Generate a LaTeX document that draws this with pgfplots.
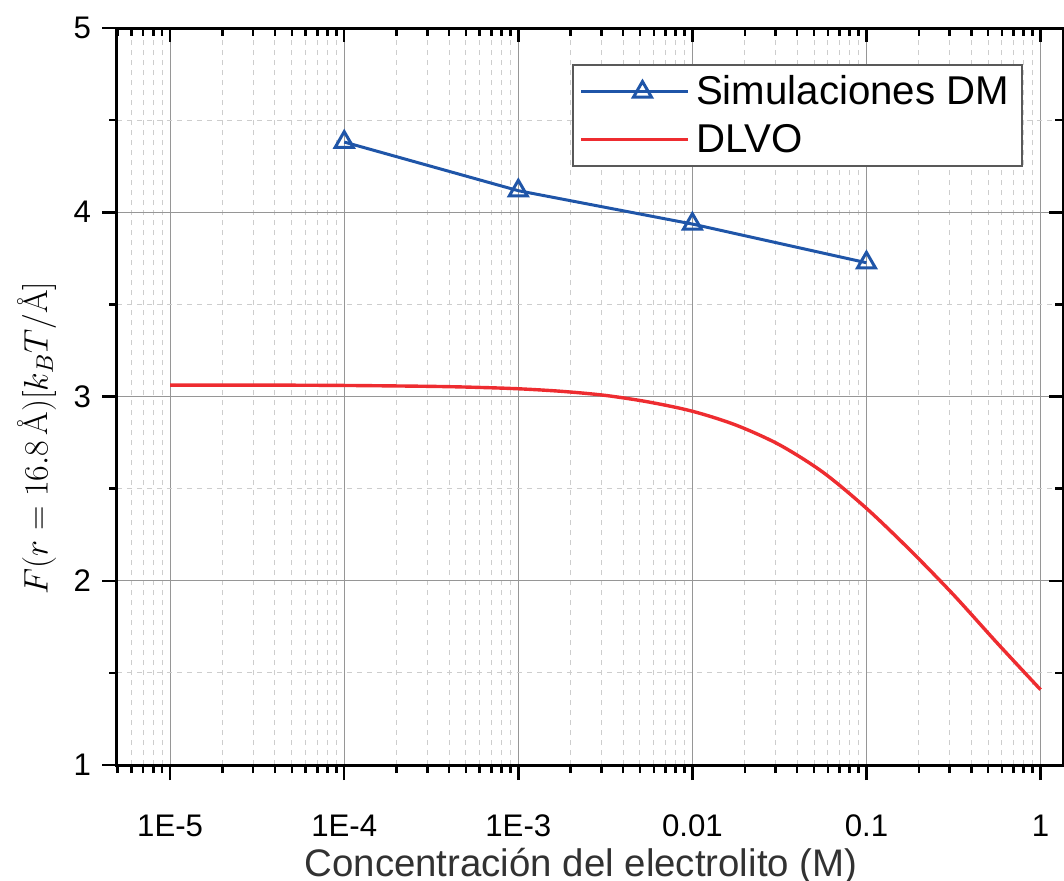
\RequirePackage{fix-cm}
\documentclass[border=0pt]{standalone}
\usepackage{fontspec}
\setmainfont{Liberation Sans}
\usepackage{pgfplots}
\usepackage{pgfplotstable}
\pgfplotsset{compat=1.18}
\definecolor{dmblue}{RGB}{31,85,168}
\definecolor{dlvored}{RGB}{238,44,48}
\definecolor{majgrid}{RGB}{150,150,150}
\definecolor{mingrid}{RGB}{205,205,205}
\definecolor{labelgray}{RGB}{50,50,50}
\newcommand{\AAr}{\mbox{\fontfamily{lmr}\selectfont Å}}

\pgfplotstableread{
c F
1e-4 4.381
1e-3 4.117
1e-2 3.936
1e-1 3.726
}\dmdata

\pgfplotstableread{
c F
1e-5 3.062
3.162e-5 3.062
1e-4 3.060
3.162e-4 3.055
5.623e-4 3.050
1e-3 3.042
1.778e-3 3.028
3.162e-3 3.006
5.623e-3 2.970
1e-2 2.920
1.778e-2 2.845
3.162e-2 2.738
5.623e-2 2.589
1e-1 2.393
0.1778 2.167
0.3162 1.924
0.5623 1.663
1 1.409
}\dlvodata

\begin{document}
\begin{tikzpicture}
\begin{axis}[
  at={(0,0)}, anchor=south west,
  scale only axis, width=473pt, height=368.5pt,
  xmode=log, xmin=4.95e-6, xmax=1.346, ymin=1, ymax=5,
  xtick={1e-5,1e-4,1e-3,1e-2,1e-1,1},
  minor xtick={5e-6,6e-6,7e-6,8e-6,9e-6,
    2e-5,3e-5,4e-5,5e-5,6e-5,7e-5,8e-5,9e-5,
    2e-4,3e-4,4e-4,5e-4,6e-4,7e-4,8e-4,9e-4,
    2e-3,3e-3,4e-3,5e-3,6e-3,7e-3,8e-3,9e-3,
    2e-2,3e-2,4e-2,5e-2,6e-2,7e-2,8e-2,9e-2,
    0.2,0.3,0.4,0.5,0.6,0.7,0.8,0.9},
  ytick={1,2,3,4,5}, minor ytick={1.5,2.5,3.5,4.5},
  tick style={black, line width=1.25pt},
  xticklabels={1E-5,1E-4,1E-3,0.01,0.1,1},
  xtick pos=left, ytick pos=left, tick align=outside,
  major tick length=7.5pt, minor tick length=4pt,
  grid=both,
  major grid style={majgrid, line width=0.6pt},
  minor grid style={mingrid, line width=0.5pt, dash pattern=on 2.5pt off 2.5pt},
  axis line style={line width=1.5pt},
  tick label style={font=\fontsize{15.6}{19}\selectfont},
  xticklabel style={yshift=-14pt},
  yticklabel style={xshift=-2pt},
  /pgf/number format/assume math mode=true,
  xlabel={Concentración del electrolito (M)},
  xlabel style={font=\fontsize{19.2}{23}\selectfont, text=labelgray, inner sep=0pt, at={(axis description cs:0.4905,-0.1506)}, anchor=base},
  ylabel={$F\big(r=16.8\,\AAr\big)[k_BT/\AAr]$},
  ylabel style={font=\fontsize{17}{20}\selectfont, inner sep=0pt, at={(axis description cs:-0.0846,0.4437)}, anchor=center},
  legend cell align=left,
  legend style={at={(0.481,0.951)}, anchor=north west, draw=black!65, line width=0.75pt,
    font=\fontsize{20.1}{24}\selectfont, inner xsep=3.5pt, inner ysep=3.5pt, row sep=4pt,
    nodes={inner xsep=3pt}},
  legend image code/.code={\path (0pt,0pt) -- (53.5pt,0pt);
    \draw[#1, mark repeat=2, mark phase=2] plot coordinates {(7.5pt,0pt) (30.5pt,0pt) (53.5pt,0pt)};},
]
\addplot[dmblue, line width=1.5pt, mark=triangle, mark size=5.2pt, mark options={solid, fill=white, line width=1.5pt}] table[x=c, y=F] {\dmdata};
\addlegendentry{Simulaciones DM}
\addplot[dlvored, line width=1.7pt, smooth] table[x=c, y=F] {\dlvodata};
\addlegendentry{DLVO}
\end{axis}
\begin{axis}[
  at={(0,0)}, anchor=south west,
  scale only axis, width=473pt, height=368.5pt,
  xmode=log, xmin=4.95e-6, xmax=1.346, ymin=1, ymax=5,
  xtick={1e-5,1e-4,1e-3,1e-2,1e-1,1},
  minor xtick={5e-6,6e-6,7e-6,8e-6,9e-6,
    2e-5,3e-5,4e-5,5e-5,6e-5,7e-5,8e-5,9e-5,
    2e-4,3e-4,4e-4,5e-4,6e-4,7e-4,8e-4,9e-4,
    2e-3,3e-3,4e-3,5e-3,6e-3,7e-3,8e-3,9e-3,
    2e-2,3e-2,4e-2,5e-2,6e-2,7e-2,8e-2,9e-2,
    0.2,0.3,0.4,0.5,0.6,0.7,0.8,0.9},
  ytick={1,2,3,4,5}, minor ytick={1.5,2.5,3.5,4.5},
  tick style={black, line width=1.25pt},
  xtick pos=right, ytick pos=right, tick align=inside,
  major tick length=7pt, minor tick length=4pt,
  xticklabels={}, yticklabels={},
  axis line style={draw=none},
]
\addplot[draw=none] coordinates {(1e-3,3)};
\end{axis}
\pgfresetboundingbox
\useasboundingbox (-58.5pt,-57.5pt) rectangle (473.5pt,382.5pt);
\end{tikzpicture}
\end{document}
